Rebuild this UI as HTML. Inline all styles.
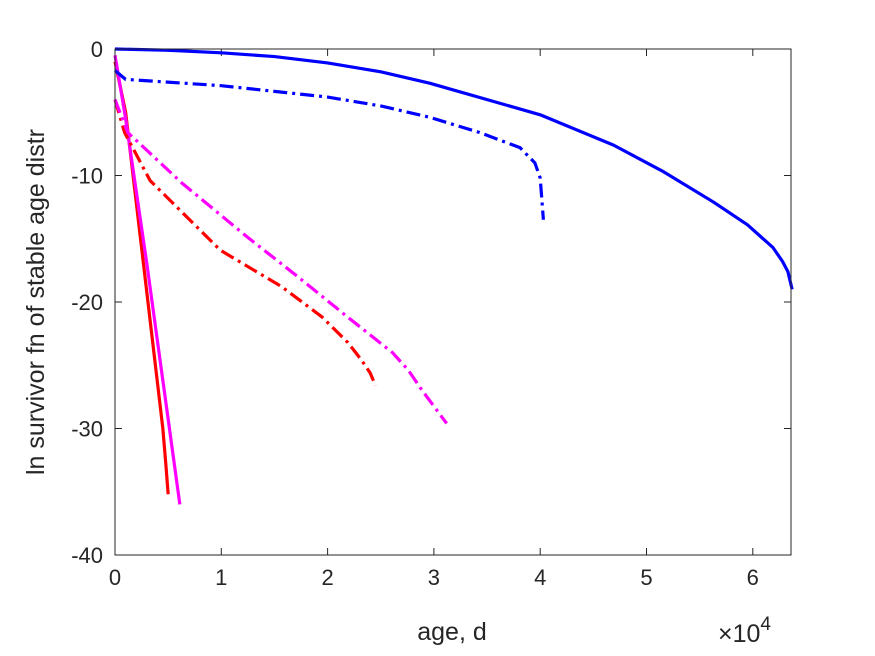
<!DOCTYPE html>
<html><head><meta charset="utf-8"><style>
html,body{margin:0;padding:0;background:#fff}
svg{display:block;font-family:"Liberation Sans",sans-serif}
</style></head><body>
<svg id="chart" width="875" height="656" viewBox="0 0 875 656">
<rect width="875" height="656" fill="#fff"/>
<g id="axes"></g>
<g id="series"></g>
<rect x="115" y="49" width="676" height="506" fill="none" stroke="#262626" stroke-width="1"/>
<text x="452" y="640" font-size="25" text-anchor="middle" fill="#262626">age, d</text>
<text transform="translate(44,302) rotate(-90)" font-size="25" text-anchor="middle" fill="#262626">ln survivor fn of stable age distr</text>
<text x="718" y="642" font-size="25" fill="#262626">×10<tspan dy="-12" font-size="19">4</tspan></text>
</svg>
<script>
const xTicks=[0,1,2,3,4,5,6];
const yTicks=[0,-10,-20,-30,-40];
const blueSolidX=[0,0.5,1,1.5,2,2.5,2.96,4.0,4.69,5.16,5.63,5.95,6.19,6.28,6.33,6.37];
const blueSolidY=[0,-0.1,-0.3,-0.6,-1.1,-1.8,-2.7,-5.2,-7.6,-9.7,-12.1,-13.9,-15.7,-16.8,-17.6,-19];
const blueDashX=[0,0.1,1,2,2.5,2.96,3.43,3.81,3.95,4.0,4.03];
const blueDashY=[-1.7,-2.4,-2.9,-3.8,-4.5,-5.4,-6.6,-7.8,-9.0,-10.2,-13.5];
const redSolidX=[0,0.1,0.45,0.48,0.5];
const redSolidY=[-1,-5,-30,-33,-35.2];
const magSolidX=[0,0.1,0.3,0.61];
const magSolidY=[-0.5,-5.5,-17,-36];
const redDashX=[0,0.09,0.33,0.99,1.57,1.95,2.19,2.32,2.40,2.45];
const redDashY=[-4,-6.6,-10.4,-15.9,-18.8,-21.2,-23.2,-24.6,-25.6,-26.6];
const magDashX=[0,0.12,0.63,1.25,1.72,2.19,2.61,2.76,2.89,3.12];
const magDashY=[-4,-6.6,-10.6,-14.9,-18.0,-21.2,-24.0,-25.4,-27,-29.6];
const NS="http://www.w3.org/2000/svg";
function xs(v){return 115+v*106.3;}
function ys(v){return 49-v*12.65;}
const axes=document.getElementById('axes');
function tick(x1,y1,x2,y2,name){
  const l=document.createElementNS(NS,'line');
  l.setAttribute('x1',x1);l.setAttribute('x2',x2);l.setAttribute('y1',y1);l.setAttribute('y2',y2);
  l.setAttribute('stroke','#262626');
  
  
  axes.appendChild(l);
}
xTicks.forEach(t=>{
  tick(xs(t),555,xs(t),548,'x-tick');
  tick(xs(t),49,xs(t),56,'x-tick-top');
  const tx=document.createElementNS(NS,'text');
  tx.setAttribute('x',xs(t));tx.setAttribute('y',585);tx.setAttribute('font-size','22');tx.setAttribute('text-anchor','middle');tx.setAttribute('fill','#262626');
  tx.textContent=t;
  
  
  axes.appendChild(tx);
});
yTicks.forEach(t=>{
  tick(115,ys(t),122,ys(t),'y-tick');
  tick(791,ys(t),784,ys(t),'y-tick-right');
  const tx=document.createElementNS(NS,'text');
  tx.setAttribute('x',103);tx.setAttribute('y',ys(t)+8);tx.setAttribute('font-size','22');tx.setAttribute('text-anchor','end');tx.setAttribute('fill','#262626');
  tx.textContent=t;
  
  
  axes.appendChild(tx);
});
const ser=document.getElementById('series');
function draw(X,Y,color,dash,name){
  const p=document.createElementNS(NS,'polyline');
  p.setAttribute('points',X.map((x,i)=>xs(x)+','+ys(Y[i])).join(' '));
  p.setAttribute('fill','none');p.setAttribute('stroke',color);p.setAttribute('stroke-width','3.2');
  p.setAttribute('stroke-linejoin','round');
  if(dash)p.setAttribute('stroke-dasharray','14 5 3 5');
  
  
  ser.appendChild(p);
}
draw(redSolidX,redSolidY,'#ff0000',false,'red-solid-line');
draw(magSolidX,magSolidY,'#ff00ff',false,'magenta-solid-line');
draw(redDashX,redDashY,'#ff0000',true,'red-dashdot-line');
draw(magDashX,magDashY,'#ff00ff',true,'magenta-dashdot-line');
draw(blueDashX,blueDashY,'#0000ff',true,'blue-dashdot-line');
draw(blueSolidX,blueSolidY,'#0000ff',false,'blue-solid-line');
</script>
</body></html>
